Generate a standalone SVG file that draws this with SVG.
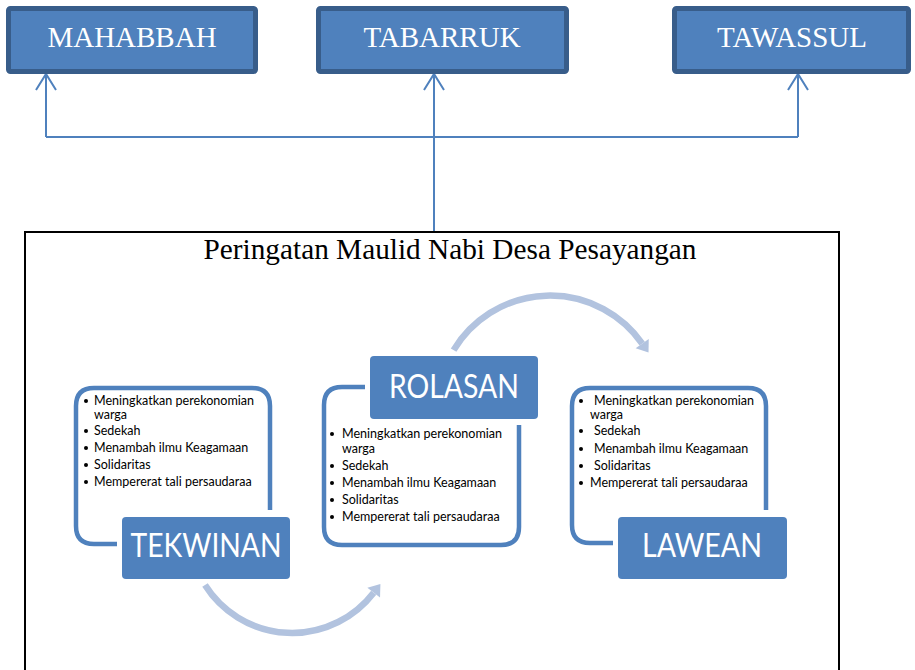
<svg xmlns="http://www.w3.org/2000/svg" width="915" height="670" viewBox="0 0 915 670">
<defs>
<style>
.top rect{fill:#4F81BD;stroke:#385D8A;stroke-width:5}
.top text{font-family:"Liberation Serif","Times New Roman",serif;font-size:29px;fill:#fff;text-anchor:middle}
.conn{fill:none;stroke:#4F81BD;stroke-width:2}
.frame{fill:none;stroke:#4F81BD;stroke-width:4.5;stroke-linecap:butt}
.lbl rect{fill:#4F81BD}
.lbl text{font-family:Lato,"Liberation Sans",sans-serif;font-size:33px;fill:#fff;text-anchor:middle}
.bl{font-family:Lato,"Liberation Sans",sans-serif;font-size:12.5px;fill:#000}
.dot{fill:#000}
.cyc{fill:none;stroke:#B2C3DF;stroke-width:6.5}
.title{font-family:"Liberation Serif","Times New Roman",serif;font-size:29px;fill:#000;text-anchor:middle}
</style>
<marker id="head" markerUnits="userSpaceOnUse" markerWidth="12" markerHeight="16" refX="0" refY="8" orient="auto" overflow="visible">
<path d="M0,0 L11,8 L0,16 z" fill="#B2C3DF"/>
</marker>
</defs>
<rect x="0" y="0" width="915" height="670" fill="#fff"/>

<g id="connectors">
<path class="conn" d="M434,231 L434,75"/>
<path class="conn" d="M46,137 L798,137"/>
<path class="conn" d="M46,137 L46,75"/>
<path class="conn" d="M798,137 L798,75"/>
<path d="M36,90 L46,74 L56,90" fill="none" stroke="#4F81BD" stroke-width="2"/>
<path d="M424,90 L434,74 L444,90" fill="none" stroke="#4F81BD" stroke-width="2"/>
<path d="M788,90 L798,74 L808,90" fill="none" stroke="#4F81BD" stroke-width="2"/>
</g>

<g id="mahabbah" class="top">
<rect x="8.5" y="8.5" width="247" height="63" rx="2"/>
<text x="132" y="47">MAHABBAH</text>
</g>
<g id="tabarruk" class="top">
<rect x="318.5" y="8.5" width="248" height="63" rx="2"/>
<text x="442" y="47">TABARRUK</text>
</g>
<g id="tawassul" class="top">
<rect x="674.5" y="8.5" width="234" height="63" rx="2"/>
<text x="792" y="47">TAWASSUL</text>
</g>

<g id="main-frame">
<rect x="25" y="232" width="814" height="450" fill="none" stroke="#000" stroke-width="2"/>
<text class="title" x="450" y="259" textLength="493" lengthAdjust="spacingAndGlyphs">Peringatan Maulid Nabi Desa Pesayangan</text>
</g>

<g id="cycle-arrows">
<path class="cyc" d="M453.6,350.1 A112.5,112.5 0 0 1 642.2,343.6" marker-end="url(#head)"/>
<path class="cyc" d="M205,585 A103,103 0 0 0 373.7,592.7" marker-end="url(#head)"/>
</g>

<g id="tekwinan">
<path class="frame" d="M117,544 L94,544 Q76,544 76,526 L76,406 Q76,388 94,388 L252,388 Q270,388 270,406 L270,510"/>
<circle class="dot" cx="86" cy="401" r="2"/>
<circle class="dot" cx="86" cy="431" r="2"/>
<circle class="dot" cx="86" cy="448" r="2"/>
<circle class="dot" cx="86" cy="465" r="2"/>
<circle class="dot" cx="86" cy="482" r="2"/>
<text class="bl" x="94" y="405" textLength="160" lengthAdjust="spacingAndGlyphs">Meningkatkan perekonomian</text>
<text class="bl" x="94" y="419">warga</text>
<text class="bl" x="94" y="435">Sedekah</text>
<text class="bl" x="94" y="452">Menambah ilmu Keagamaan</text>
<text class="bl" x="94" y="469">Solidaritas</text>
<text class="bl" x="94" y="486">Mempererat tali persaudaraa</text>
<g class="lbl">
<rect x="122" y="517" width="168" height="62" rx="4"/>
<text x="206" y="557" textLength="151" lengthAdjust="spacingAndGlyphs">TEKWINAN</text>
</g>
</g>

<g id="rolasan">
<path class="frame" d="M365,387 L342,387 Q324,387 324,405 L324,527 Q324,545 342,545 L501,545 Q519,545 519,527 L519,425"/>
<circle class="dot" cx="332" cy="434" r="2"/>
<circle class="dot" cx="332" cy="466" r="2"/>
<circle class="dot" cx="332" cy="483" r="2"/>
<circle class="dot" cx="332" cy="500" r="2"/>
<circle class="dot" cx="332" cy="517" r="2"/>
<text class="bl" x="342" y="438" textLength="160" lengthAdjust="spacingAndGlyphs">Meningkatkan perekonomian</text>
<text class="bl" x="342" y="453">warga</text>
<text class="bl" x="342" y="470">Sedekah</text>
<text class="bl" x="342" y="487">Menambah ilmu Keagamaan</text>
<text class="bl" x="342" y="504">Solidaritas</text>
<text class="bl" x="342" y="521">Mempererat tali persaudaraa</text>
<g class="lbl">
<rect x="370" y="356" width="168" height="63" rx="4"/>
<text x="454" y="398" textLength="130" lengthAdjust="spacingAndGlyphs">ROLASAN</text>
</g>
</g>

<g id="lawean">
<path class="frame" d="M613,543 L590,543 Q572,543 572,525 L572,406 Q572,388 590,388 L748,388 Q766,388 766,406 L766,510"/>
<circle class="dot" cx="581" cy="401" r="2"/>
<circle class="dot" cx="581" cy="431" r="2"/>
<circle class="dot" cx="581" cy="449" r="2"/>
<circle class="dot" cx="581" cy="466" r="2"/>
<circle class="dot" cx="581" cy="483" r="2"/>
<text class="bl" x="594" y="405" textLength="160" lengthAdjust="spacingAndGlyphs">Meningkatkan perekonomian</text>
<text class="bl" x="590" y="419">warga</text>
<text class="bl" x="594" y="435">Sedekah</text>
<text class="bl" x="594" y="453">Menambah ilmu Keagamaan</text>
<text class="bl" x="594" y="470">Solidaritas</text>
<text class="bl" x="590" y="487">Mempererat tali persaudaraa</text>
<g class="lbl">
<rect x="618" y="517" width="169" height="62" rx="4"/>
<text x="702" y="557" textLength="120" lengthAdjust="spacingAndGlyphs">LAWEAN</text>
</g>
</g>
</svg>
